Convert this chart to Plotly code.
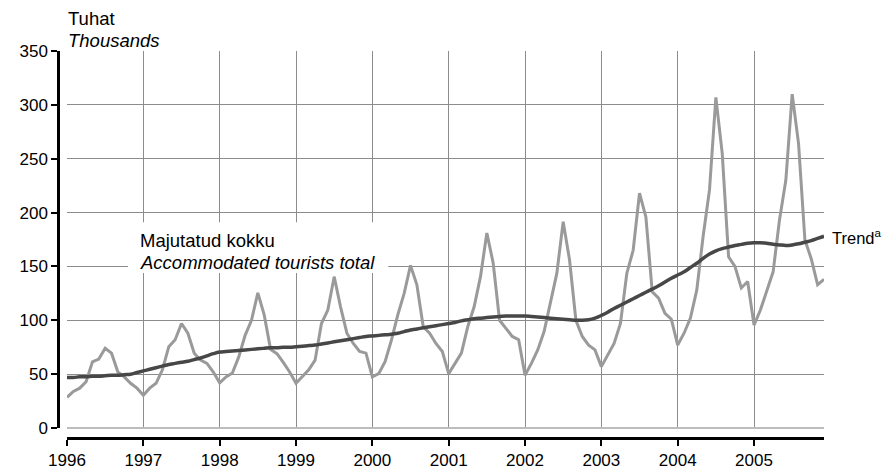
import numpy as np
import plotly.graph_objects as go

# Monthly accommodated tourists (thousands), Jan 1996 - Dec 2005
years = list(range(1996, 2006))
tourists = [
    28.5, 34, 37, 43, 61.5, 64, 74, 69.5, 52, 47.5, 41.5, 37,          # 1996
    30.5, 37, 41.5, 54, 75.5, 82, 97, 88, 69.5, 63, 60, 52,            # 1997
    42, 47.5, 51, 66, 86, 100, 125.5, 105, 73, 69, 61, 52,             # 1998
    41.5, 47.5, 54, 63, 97, 109.5, 140.5, 112.5, 88, 78.5, 71, 69.5,   # 1999
    47.5, 50.5, 61.5, 81.5, 105, 125, 151, 133, 94, 88, 78.5, 71,      # 2000
    50.5, 60, 69.5, 94, 112.5, 140.5, 181, 153, 100, 92.5, 85, 82,     # 2001
    49, 60, 72.5, 89.5, 115.5, 143.5, 191.5, 156, 100, 85, 77, 72.5,   # 2002
    57, 68, 78.5, 97, 143.5, 165, 218, 196, 126.5, 120.5, 106.5, 101,  # 2003
    77, 88, 102, 128, 178, 221, 307, 255, 159, 150, 130, 136,          # 2004
    95.5, 109.5, 128, 145, 193, 230, 310, 264, 174.5, 157, 133, 138,   # 2005
]
trend = [
    47, 47, 47.5, 47.5, 48, 48, 48.5, 49, 49, 49.5, 50, 51.5,
    53, 54.5, 56, 57.5, 59, 60, 61, 62, 63.5, 65, 67, 69,
    70.5, 71, 71.5, 72, 72.5, 73, 73.5, 74, 74.5, 74.5, 75, 75,
    75.5, 76, 76.5, 77, 78, 79, 80, 81, 82, 83, 84, 85,
    85.5, 86, 86.5, 87, 88, 89.5, 91, 92, 93, 94, 95, 96,
    97, 98, 99.5, 100.5, 101.5, 102, 102.5, 103, 103.5, 104, 104, 104,
    104, 103.5, 103, 102.5, 102, 101.5, 101, 100.5, 100, 100, 100.5, 102,
    104.5, 107.5, 111, 114, 117, 120, 123, 126, 129, 132, 135.5, 139,
    142, 145, 149, 153, 157.5, 161.5, 164.5, 166.5, 168, 169.5, 170.5, 171.5,
    172, 172, 171.5, 170.5, 170, 169.5, 170, 171, 172.5, 174, 176, 178,
]
y_ticks = [0, 50, 100, 150, 200, 250, 300, 350]

x = np.array([y + m / 12 for y in years for m in range(12)])

FONT = "Liberation Sans, Arial, Helvetica, sans-serif"

fig = go.Figure()
fig.add_trace(go.Scatter(x=x, y=tourists, mode="lines",
                         line=dict(color="#9a9a9a", width=3), hoverinfo="skip"))
fig.add_trace(go.Scatter(x=x, y=trend, mode="lines",
                         line=dict(color="#474747", width=3.5, shape="spline"),
                         hoverinfo="skip"))

# white box behind the series label (hides gridlines)
fig.add_shape(type="rect", xref="x", yref="y", x0=1996.8, x1=2000.21, y0=144, y1=191,
              fillcolor="white", line=dict(width=0), layer="between")

LBL = dict(size=18.5, color="black")
fig.add_annotation(x=1996.93, y=174.5, xref="x", yref="y", text="Majutatud kokku",
                   showarrow=False, xanchor="left", yanchor="middle", font=LBL)
fig.add_annotation(x=1996.93, y=154, xref="x", yref="y",
                   text="<i>Accommodated tourists total</i>",
                   showarrow=False, xanchor="left", yanchor="middle", font=LBL)
fig.add_annotation(x=1.0117, y=177.5, xref="paper", yref="y", text="Trend<sup>a</sup>",
                   showarrow=False, xanchor="left", yanchor="middle", xshift=-3,
                   font=dict(size=16.5, color="black"))
fig.add_annotation(x=0.0104, y=1.083, xref="paper", yref="paper", text="Tuhat",
                   showarrow=False, xanchor="left", yanchor="middle", font=LBL)
fig.add_annotation(x=0.0104, y=1.027, xref="paper", yref="paper", text="<i>Thousands</i>",
                   showarrow=False, xanchor="left", yanchor="middle", font=LBL)

# page body has an 8px margin, so the figure is 8px smaller and offset
fig.update_layout(
    width=882, height=464,
    margin=dict(l=50, r=66, t=43, b=34, autoexpand=False),
    plot_bgcolor="white", paper_bgcolor="white",
    showlegend=False,
    font=dict(family=FONT, size=17, color="black"),
    xaxis=dict(
        domain=[0.01175, 1], range=[1996, 2005 + 11 / 12],
        tickmode="array", tickvals=years, ticktext=[str(y) for y in years],
        showgrid=True, gridcolor="#8c8c8c", gridwidth=1,
        showline=True, linecolor="black", linewidth=2.5,
        ticks="outside", ticklen=6, tickwidth=1.5, tickcolor="black",
        anchor="free", position=0, zeroline=False, automargin=False,
    ),
    yaxis=dict(
        domain=[0.0258, 1], range=[0, 350],
        tickmode="array", tickvals=y_ticks,
        showgrid=True, gridcolor="#8c8c8c", gridwidth=1,
        zeroline=True, zerolinecolor="#bdbdbd", zerolinewidth=1.5,
        showline=True, linecolor="black", linewidth=2.5,
        ticks="outside", ticklen=6, tickwidth=1.5, tickcolor="black",
        anchor="free", position=0, automargin=False,
    ),
)

fig.write_html("out.html")
